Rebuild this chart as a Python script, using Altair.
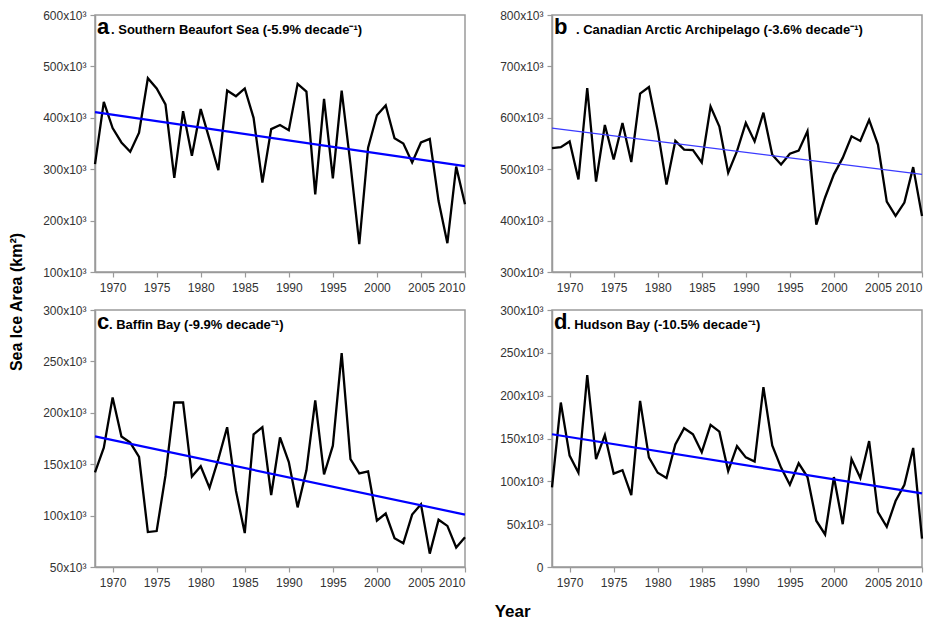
import altair as alt
import pandas as pd

years = list(range(1968, 2011))

beaufort = [310, 431, 380, 352, 334, 371, 477, 457, 426, 283, 413, 326, 417, 358, 298,
            453, 442, 457, 400, 274, 378, 386, 376, 466, 451, 251, 437, 282, 453, 310,
            154, 342, 405, 424, 360, 350, 313, 352, 359, 238, 156, 305, 232]
archipelago = [541, 543, 554, 480, 658, 476, 586, 519, 590, 514, 647, 660, 575, 470, 555,
               538, 537, 513, 622, 583, 493, 535, 590, 554, 610, 528, 509, 530, 536, 574,
               392, 445, 490, 522, 564, 555, 596, 548, 437, 409, 435, 504, 409]
baffin = [142, 166, 215, 177, 171, 157, 84, 85, 139, 210, 210, 138, 148, 127, 155,
          186, 124, 83, 179, 186, 120, 176, 152, 108, 144, 212, 140, 168, 258, 155,
          141, 143, 95, 102, 78, 73, 101, 111, 63, 96, 90, 69, 79]
hudson = [93, 192, 130, 110, 224, 126, 154, 109, 113, 84, 194, 128, 110, 104, 143,
          162, 155, 134, 166, 158, 112, 141, 128, 123, 210, 142, 116, 96, 121, 105,
          54, 38, 105, 50, 126, 104, 147, 64, 47, 77, 96, 139, 33]

trend_years = [1968, 2010]
trend_beaufort = [411, 306]
trend_archipelago = [580, 490]
trend_baffin = [177, 101]
trend_hudson = [155, 86]

x_ticks = [1970, 1975, 1980, 1985, 1990, 1995, 2000, 2005, 2010]

FONT = "Liberation Sans"
W, H = 370, 257


def panel(values, trend, domain, ticks, letter, label, label_dx, trend_width, trend_color):
    df = pd.DataFrame({"year": years, "area": values})
    tdf = pd.DataFrame({"year": trend_years, "area": trend})
    xenc = alt.X("year:Q", scale=alt.Scale(domain=[1968, 2010], nice=False, zero=False),
                 axis=alt.Axis(values=x_ticks, format="d", title=None))
    yenc = alt.Y("area:Q", scale=alt.Scale(domain=domain, nice=False, zero=False),
                 axis=alt.Axis(values=ticks, title=None,
                               labelExpr="datum.value == 0 ? '0' : datum.value + 'x10³'"))
    line = alt.Chart(df).mark_line(color="black", strokeWidth=2.3).encode(x=xenc, y=yenc)
    tr = alt.Chart(tdf).mark_line(color=trend_color, strokeWidth=trend_width).encode(x=xenc, y=yenc)
    let = alt.Chart(pd.DataFrame({"t": [letter]})).mark_text(
        font=FONT, fontSize=22, fontWeight="bold", align="left", baseline="alphabetic",
        color="black").encode(text="t:N", x=alt.value(2), y=alt.value(19))
    lab = alt.Chart(pd.DataFrame({"t": [label]})).mark_text(
        font=FONT, fontSize=13, fontWeight="bold", align="left", baseline="alphabetic",
        color="black").encode(text="t:N", x=alt.value(label_dx), y=alt.value(19))
    return alt.layer(line, tr, let, lab).properties(width=W, height=H)


pa = panel(beaufort, trend_beaufort, [100, 600], [100, 200, 300, 400, 500, 600],
           "a", ". Southern Beaufort Sea (-5.9% decade⁻¹)", 16, 2.2, "#0000ff")
pb = panel(archipelago, trend_archipelago, [300, 800], [300, 400, 500, 600, 700, 800],
           "b", ". Canadian Arctic Archipelago (-3.6% decade⁻¹)", 24, 1.2, "#3a3aff")
pc = panel(baffin, trend_baffin, [50, 300], [50, 100, 150, 200, 250, 300],
           "c", ". Baffin Bay (-9.9% decade⁻¹)", 14, 2.2, "#0000ff")
pd_ = panel(hudson, trend_hudson, [0, 300], [0, 50, 100, 150, 200, 250, 300],
            "d", ". Hudson Bay (-10.5% decade⁻¹)", 15, 2.2, "#0000ff")

grid = alt.vconcat(
    alt.hconcat(pa, pb, spacing=27),
    alt.hconcat(pc, pd_, spacing=27),
    spacing=9,
).properties(title=alt.TitleParams("Year", orient="bottom", anchor="middle", font=FONT,
                                   fontSize=17, fontWeight="bold", dx=28, offset=15))

chart = alt.hconcat(grid).properties(
    padding=0,
    title=alt.TitleParams("Sea Ice Area (km²)", orient="left", anchor="middle", font=FONT,
                          fontSize=16, fontWeight="bold", offset=17, dx=12)
).configure_view(stroke="#9a9a9a", strokeWidth=1.5).configure_axis(
    domainColor="#9a9a9a", domainWidth=1.5, tickColor="#9a9a9a", tickWidth=1.2, tickSize=5,
    labelColor="#333333", labelFont=FONT, labelFontSize=12, labelPadding=4, grid=False
).configure_axisX(labelPadding=5)

chart.save("out.html", embed_options={"renderer": "svg", "actions": False})
